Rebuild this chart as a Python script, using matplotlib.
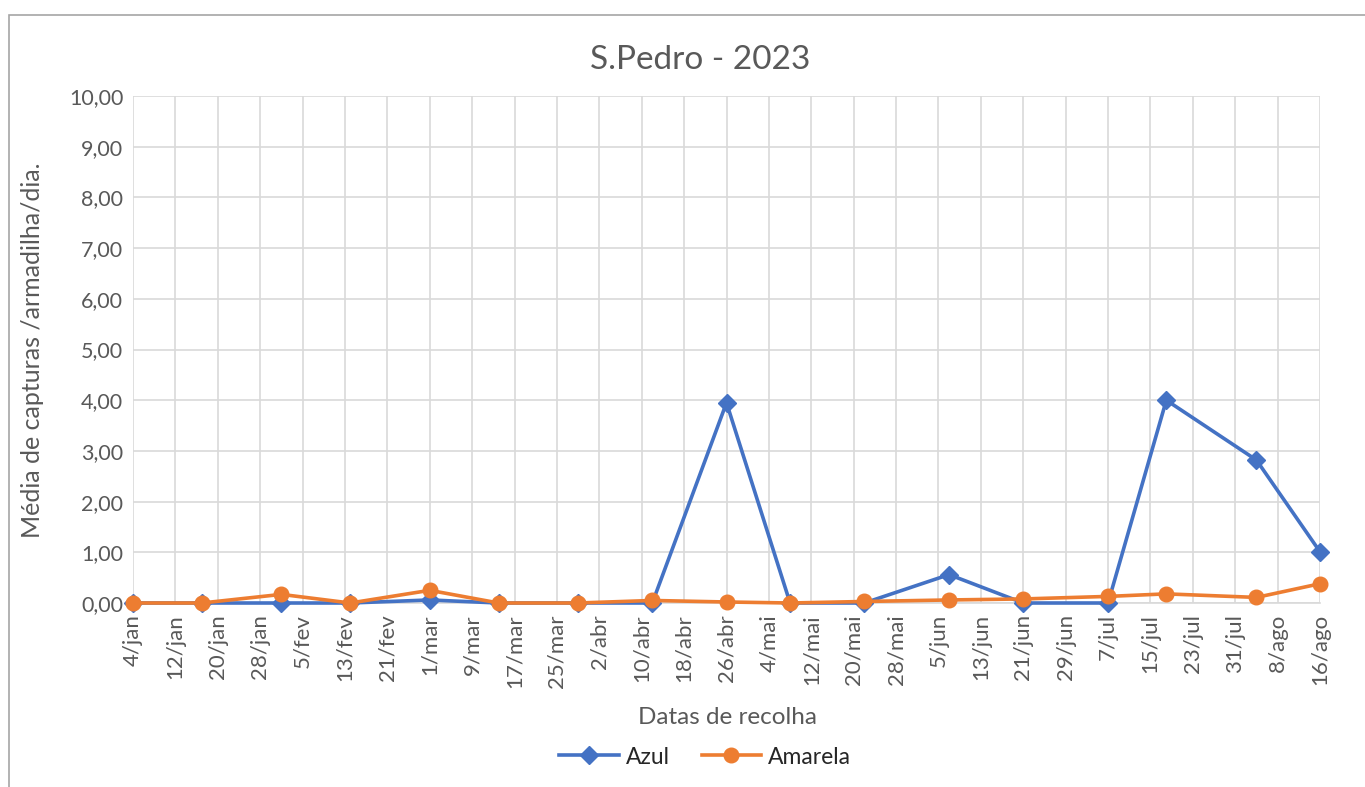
import matplotlib
matplotlib.use("Agg")
import matplotlib.pyplot as plt
import matplotlib.dates as mdates
from matplotlib.patches import Rectangle
from datetime import date, timedelta

plt.rcParams['font.family'] = ['Lato', 'DejaVu Sans']

# ---- data ----
dates = ["2023-01-04", "2023-01-17", "2023-02-01", "2023-02-14", "2023-03-01",
         "2023-03-14", "2023-03-29", "2023-04-12", "2023-04-26", "2023-05-08",
         "2023-05-22", "2023-06-07", "2023-06-21", "2023-07-07", "2023-07-18",
         "2023-08-04", "2023-08-16"]
azul = [0.00, 0.00, 0.00, 0.00, 0.06, 0.00, 0.00, 0.00, 3.95, 0.00,
        0.00, 0.56, 0.00, 0.00, 4.00, 2.82, 1.01]
amarela = [0.00, 0.00, 0.17, 0.00, 0.25, 0.00, 0.00, 0.05, 0.02, 0.00,
           0.03, 0.06, 0.08, 0.13, 0.18, 0.11, 0.38]
tick_labels = ["4/jan", "12/jan", "20/jan", "28/jan", "5/fev", "13/fev", "21/fev",
               "1/mar", "9/mar", "17/mar", "25/mar", "2/abr", "10/abr", "18/abr",
               "26/abr", "4/mai", "12/mai", "20/mai", "28/mai", "5/jun", "13/jun",
               "21/jun", "29/jun", "7/jul", "15/jul", "23/jul", "31/jul", "8/ago",
               "16/ago"]
y_ticks = [0, 1, 2, 3, 4, 5, 6, 7, 8, 9, 10]
title = "S.Pedro - 2023"

x = [date.fromisoformat(d) for d in dates]
start = date(2023, 1, 4)
tick_dates = [start + timedelta(days=8 * i) for i in range(len(tick_labels))]

BLUE = "#4472C4"
ORANGE = "#ED7D31"
TXT = "#595959"
GRID = "#D9D9D9"

fig = plt.figure(figsize=(13.65, 7.87), dpi=100)
ax = fig.add_axes([133 / 1365, 1 - 603 / 787, (1320 - 133) / 1365, (603 - 96) / 787])

ax.plot(x, azul, color=BLUE, lw=2.6, marker='D', markersize=9, label="Azul", zorder=3, clip_on=False)
ax.plot(x, amarela, color=ORANGE, lw=2.6, marker='o', markersize=10.5, label="Amarela", zorder=4, clip_on=False)

ax.set_xlim(mdates.date2num(tick_dates[0]), mdates.date2num(tick_dates[-1]))
ax.set_ylim(0, 10)
ax.set_xticks(tick_dates)
ax.set_xticklabels(tick_labels, rotation=90, fontsize=16, color=TXT)
ax.set_yticks(y_ticks)
ax.set_yticklabels([f"{v:.2f}".replace('.', ',') for v in y_ticks], fontsize=15.5, color=TXT)
ax.tick_params(axis='x', length=0, pad=8)
ax.tick_params(axis='y', length=0, pad=7)
ax.grid(True, color=GRID, lw=1.2)
ax.set_axisbelow(True)
for s in ax.spines.values():
    s.set_visible(False)
ax.spines['bottom'].set_visible(True)
ax.spines['bottom'].set_color(GRID)
ax.spines['bottom'].set_linewidth(1.2)

fig.text(700 / 1365, 1 - 60 / 787, title, ha='center', va='center', fontsize=24, color=TXT)
fig.text(727 / 1365, 1 - 717 / 787, "Datas de recolha", ha='center', va='center', fontsize=17.5, color=TXT)
fig.text(33 / 1365, 1 - 350 / 787, "Média de capturas /armadilha/dia.", ha='center', va='center',
         rotation=90, fontsize=18, color=TXT)

leg = fig.legend(loc='center', bbox_to_anchor=(705 / 1365, 1 - 757 / 787), ncol=2, frameon=False,
                 fontsize=16.5, handlelength=2.6, columnspacing=1.4, handletextpad=0.3)
for t in leg.get_texts():
    t.set_color("#262626")

fig.patches.append(Rectangle((9 / 1365, -0.1), 1.2, (1 - 15 / 787) + 0.1, transform=fig.transFigure,
                             fill=False, edgecolor="#A6A6A6", lw=1.2))

fig.savefig("out.png", dpi=100)
